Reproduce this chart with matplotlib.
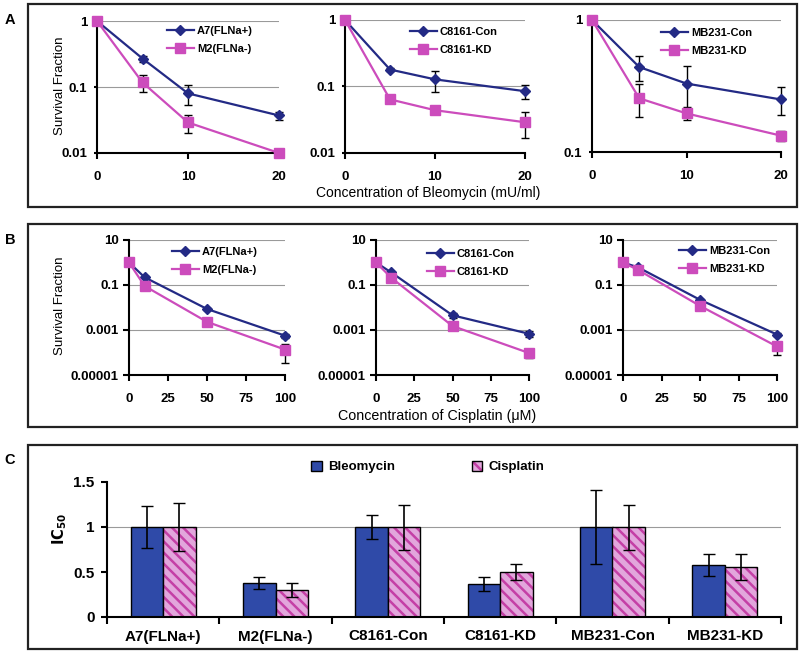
import matplotlib
matplotlib.use("Agg")
import matplotlib.pyplot as plt
from matplotlib.patches import Rectangle, Patch
from matplotlib.legend_handler import HandlerTuple

plt.rcParams['font.family'] = ['Liberation Sans', 'DejaVu Sans']
plt.rcParams['hatch.linewidth'] = 1.8

W, H = 800, 653
NAVY = '#232a85'
MAGENTA = '#cc4cbc'
BAR_BLUE = '#2f4aa8'
PINK = '#e2a6dc'
STRIPE = '#c43fa6'

# ---- Panel A: bleomycin survival ----
bleo_dose = [0, 5, 10, 20]
a7_bleo = [1, 0.27, 0.08, 0.037]
a7_bleo_err = [0, 0.03, 0.026, 0.005]
m2_bleo = [1, 0.117, 0.029, 0.01]
m2_bleo_err = [0, 0.034, 0.009, 0.0005]
c8161con_bleo = [1, 0.18, 0.128, 0.085]
c8161con_bleo_err = [0, 0.01, 0.046, 0.021]
c8161kd_bleo = [1, 0.064, 0.044, 0.029]
c8161kd_bleo_err = [0, 0.003, 0.006, 0.012]
mb231con_bleo = [1, 0.44, 0.33, 0.25]
mb231con_bleo_err = [0, 0.095, 0.12, 0.06]
mb231kd_bleo = [1, 0.255, 0.196, 0.133]
mb231kd_bleo_err = [0, 0.072, 0.022, 0.012]

# ---- Panel B: cisplatin survival ----
cis_dose = [0, 10, 50, 100]
a7_cis = [1, 0.22, 0.0086, 0.00056]
a7_cis_err = [0, 0.02, 0.001, 0.0001]
m2_cis = [1, 0.09, 0.0023, 0.000135]
m2_cis_err = [0, 0.02, 0.0006, 0.0001]
c8161con_cis = [1, 0.36, 0.0045, 0.00068]
c8161con_cis_err = [0, 0.03, 0.0012, 0.0002]
c8161kd_cis = [1, 0.21, 0.0015, 0.000095]
c8161kd_cis_err = [0, 0.02, 0.0002, 0.00004]
mb231con_cis = [1, 0.6, 0.022, 0.00063]
mb231con_cis_err = [0, 0.05, 0.003, 0.0001]
mb231kd_cis = [1, 0.46, 0.0118, 0.000185]
mb231kd_cis_err = [0, 0.04, 0.002, 0.00011]

# ---- Panel C: IC50 ----
cell_lines = ['A7(FLNa+)', 'M2(FLNa-)', 'C8161-Con', 'C8161-KD', 'MB231-Con', 'MB231-KD']
ic50_bleo = [1, 0.374, 1, 0.367, 1, 0.578]
ic50_bleo_err = [0.23, 0.065, 0.13, 0.08, 0.41, 0.12]
ic50_cis = [1, 0.30, 1, 0.503, 1, 0.56]
ic50_cis_err = [0.27, 0.08, 0.25, 0.09, 0.25, 0.145]


def fx(px):
    return px / W


def fy(py):
    return 1 - py / H


def add_ax(fig, left, right, top, bottom):
    return fig.add_axes([fx(left), fy(bottom), (right - left) / W, (bottom - top) / H])


def style_ax(ax, fs, xpad, ypad, ylen=4):
    for s in ('top', 'right'):
        ax.spines[s].set_visible(False)
    for s in ('left', 'bottom'):
        ax.spines[s].set_linewidth(1.5)
    ax.tick_params(direction='out', length=4, width=1.5, labelsize=fs)
    ax.tick_params(axis='x', pad=xpad)
    ax.tick_params(axis='y', pad=ypad, length=ylen)
    for lab in ax.get_xticklabels() + ax.get_yticklabels():
        lab.set_fontweight('bold')


def survival(ax, dose, y1, e1, lab1, y2, e2, lab2, xlim, xticks, ylim, yticks, ylabels, grid, leg_xy,
             ylen, ypad):
    ax.set_yscale('log')
    for g in grid:
        ax.axhline(g, color='#9a9a9a', lw=0.8, zorder=0)
    ax.errorbar(dose, y1, yerr=e1, color=NAVY, marker='D', ms=5, lw=1.6,
                ecolor='black', elinewidth=1, capsize=3, label=lab1, clip_on=False, zorder=3)
    ax.errorbar(dose, y2, yerr=e2, color=MAGENTA, marker='s', ms=7, lw=1.6,
                ecolor='black', elinewidth=1, capsize=3, label=lab2, clip_on=False, zorder=3)
    ax.set_xlim(*xlim)
    ax.set_ylim(*ylim)
    ax.set_xticks(xticks)
    ax.set_xticklabels([str(t) for t in xticks])
    ax.set_yticks(yticks)
    ax.set_yticklabels(ylabels)
    ax.minorticks_off()
    style_ax(ax, 9.5, 9, ypad, ylen)
    handles, labels = ax.get_legend_handles_labels()
    handles = [h[0] for h in handles]
    ax.legend(handles, labels, loc='upper left', bbox_to_anchor=(fx(leg_xy[0]), fy(leg_xy[1])),
              bbox_transform=ax.figure.transFigure, frameon=False, borderpad=0, borderaxespad=0,
              handlelength=2.4, handletextpad=0.3, labelspacing=0.75,
              prop={'size': 8, 'weight': 'bold'})


fig = plt.figure(figsize=(8, 6.53), dpi=100)

# panel frames
for top, bottom in ((4, 207), (224, 427), (445, 649)):
    fig.add_artist(Rectangle((fx(28), fy(bottom)), fx(797) - fx(28), (bottom - top) / H,
                             transform=fig.transFigure, fill=False, lw=1.6, ec='#222222'))
for lab, y in (('A', 20), ('B', 240), ('C', 460)):
    fig.text(fx(10), fy(y), lab, fontsize=10.5, fontweight='bold', ha='center', va='center')

# Panel A
a_yt = [0.01, 0.1, 1]
a_yl = ['0.01', '0.1', '1']
ax = add_ax(fig, 97, 279, 21, 153)
survival(ax, bleo_dose, a7_bleo, a7_bleo_err, 'A7(FLNa+)', m2_bleo, m2_bleo_err, 'M2(FLNa-)',
         (0, 20), [0, 10, 20], (0.01, 1), a_yt, a_yl, [0.1, 1], (167, 26), 2.5, 4.5)
ax = add_ax(fig, 345, 525, 20, 153)
survival(ax, bleo_dose, c8161con_bleo, c8161con_bleo_err, 'C8161-Con', c8161kd_bleo, c8161kd_bleo_err, 'C8161-KD',
         (0, 20), [0, 10, 20], (0.01, 1), a_yt, a_yl, [0.1, 1], (410, 27), 2.5, 4.5)
ax = add_ax(fig, 592, 781, 20, 152)
survival(ax, bleo_dose, mb231con_bleo, mb231con_bleo_err, 'MB231-Con', mb231kd_bleo, mb231kd_bleo_err, 'MB231-KD',
         (0, 20), [0, 10, 20], (0.1, 1), [0.1, 1], ['0.1', '1'], [1], (661, 28), 2.5, 4.5)
fig.text(fx(60), fy(86), 'Survival Fraction', rotation=90, fontsize=9.5, ha='center', va='center')
fig.text(fx(428), fy(193), 'Concentration of Bleomycin (mU/ml)', fontsize=10, ha='center', va='center')

# Panel B
b_yt = [1e-5, 1e-3, 1e-1, 10]
b_yl = ['0.00001', '0.001', '0.1', '10']
b_xt = [0, 25, 50, 75, 100]
ax = add_ax(fig, 129, 285, 240, 375)
survival(ax, cis_dose, a7_cis, a7_cis_err, 'A7(FLNa+)', m2_cis, m2_cis_err, 'M2(FLNa-)',
         (0, 100), b_xt, (1e-5, 10), b_yt, b_yl, [1e-3, 1e-1, 10], (172, 247), 4, 3.5)
ax = add_ax(fig, 376, 529, 240, 375)
survival(ax, cis_dose, c8161con_cis, c8161con_cis_err, 'C8161-Con', c8161kd_cis, c8161kd_cis_err, 'C8161-KD',
         (0, 100), b_xt, (1e-5, 10), b_yt, b_yl, [1e-3, 1e-1, 10], (427, 249), 4, 3.5)
ax = add_ax(fig, 623, 777, 240, 375)
survival(ax, cis_dose, mb231con_cis, mb231con_cis_err, 'MB231-Con', mb231kd_cis, mb231kd_cis_err, 'MB231-KD',
         (0, 100), b_xt, (1e-5, 10), b_yt, b_yl, [1e-3, 1e-1, 10], (679, 246), 4, 3.5)
fig.text(fx(60), fy(306), 'Survival Fraction', rotation=90, fontsize=9.5, ha='center', va='center')
fig.text(fx(437), fy(416), 'Concentration of Cisplatin (\u03bcM)', fontsize=10.3, ha='center', va='center')

# Panel C
ax = add_ax(fig, 107, 781, 482, 617)
x = list(range(len(cell_lines)))
bw = 0.29
xb = [i - bw / 2 for i in x]
xc = [i + bw / 2 for i in x]
ax.axhline(1, color='#9a9a9a', lw=0.8, zorder=0)
ax.bar(xb, ic50_bleo, bw, color=BAR_BLUE, edgecolor='black', lw=1, zorder=2)
ax.bar(xc, ic50_cis, bw, color=PINK, edgecolor=STRIPE, hatch='\\\\\\', lw=0, zorder=2)
ax.bar(xc, ic50_cis, bw, color='none', edgecolor='black', lw=1, zorder=3)
ax.errorbar(xb, ic50_bleo, yerr=ic50_bleo_err, fmt='none', ecolor='black', elinewidth=1.2, capsize=4, zorder=4)
ax.errorbar(xc, ic50_cis, yerr=ic50_cis_err, fmt='none', ecolor='black', elinewidth=1.2, capsize=4, zorder=4)
ax.set_xlim(-0.5, len(cell_lines) - 0.5)
ax.set_ylim(0, 1.5)
ax.set_yticks([0, 0.5, 1, 1.5])
ax.set_yticklabels(['0', '0.5', '1', '1.5'])
ax.set_xticks(x)
ax.set_xticklabels(cell_lines)
ax.set_xticks([i + 0.5 for i in range(-1, len(cell_lines))], minor=True)
style_ax(ax, 11, 9, 5)
ax.tick_params(axis='x', which='major', length=0)
ax.tick_params(axis='x', which='minor', length=5, width=1.5, direction='out')
fig.text(fx(60), fy(529), r'$\mathbf{IC_{50}}$', rotation=90, fontsize=10.5, ha='center', va='center')

h_bleo = Patch(facecolor=BAR_BLUE, edgecolor='black', lw=1)
h_cis = (Patch(facecolor=PINK, edgecolor=STRIPE, hatch='\\\\\\', lw=0),
         Patch(facecolor='none', edgecolor='black', lw=1))
fig.legend([h_bleo, h_cis], ['Bleomycin', 'Cisplatin'], loc='center left',
           bbox_to_anchor=(fx(311), fy(467)), ncol=2, frameon=False, borderpad=0, borderaxespad=0,
           handlelength=0.8, handleheight=0.8, handletextpad=0.5, columnspacing=5.8,
           handler_map={tuple: HandlerTuple(ndivide=1, pad=0)},
           prop={'size': 9.5, 'weight': 'bold'})

fig.savefig('out.png', dpi=100)
